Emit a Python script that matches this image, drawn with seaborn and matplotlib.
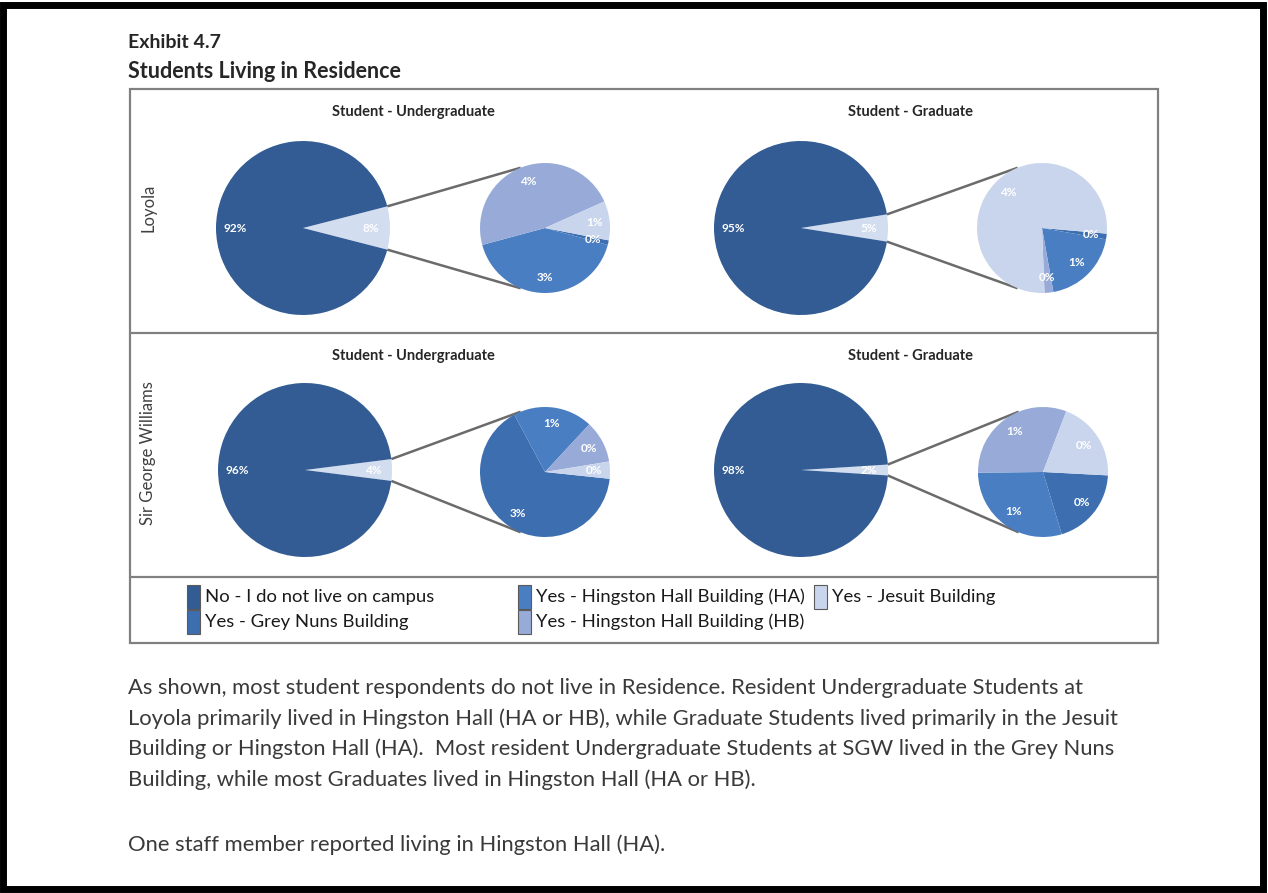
import matplotlib
matplotlib.use("Agg")
import matplotlib.pyplot as plt
import seaborn as sns
from matplotlib.patches import Rectangle
import numpy as np

# ---------------- data ----------------
campuses = ["Loyola", "Sir George Williams"]
groups = ["Student - Undergraduate", "Student - Graduate"]
categories = ["No - I do not live on campus", "Yes - Grey Nuns Building",
              "Yes - Hingston Hall Building (HA)", "Yes - Hingston Hall Building (HB)",
              "Yes - Jesuit Building"]
# percent of respondents: No, Grey Nuns, HA, HB, Jesuit
loyola_ug = [92.0, 0.09, 3.33, 3.80, 0.78]
loyola_grad = [95.0, 0.07, 0.97, 0.11, 3.85]
sgw_ug = [96.0, 2.62, 0.79, 0.42, 0.17]
sgw_grad = [98.0, 0.39, 0.59, 0.62, 0.40]

title1 = "Exhibit 4.7"
title2 = "Students Living in Residence"
paragraph = [
    "As shown, most student respondents do not live in Residence. Resident Undergraduate Students at",
    "Loyola primarily lived in Hingston Hall (HA or HB), while Graduate Students lived primarily in the Jesuit",
    "Building or Hingston Hall (HA).  Most resident Undergraduate Students at SGW lived in the Grey Nuns",
    "Building, while most Graduates lived in Hingston Hall (HA or HB).",
]
footnote = "One staff member reported living in Hingston Hall (HA)."

# ---------------- style ----------------
sns.set_theme(style="white")
plt.rcParams['font.family'] = ['Lato', 'DejaVu Sans']
palette = sns.color_palette(["#325c93", "#3c6eb0", "#4a7ec2", "#98aad8", "#c9d5ec"])
other_color = "#d3ddf0"

W, H = 1268, 893
def Y(py):
    return H - py

fig = plt.figure(figsize=(W / 100, H / 100), dpi=100)
ax = fig.add_axes([0, 0, 1, 1])

panels = [
    (loyola_ug, 303, 228, 545, 228, -11),
    (loyola_grad, 801, 228, 1042, 228, -5),
    (sgw_ug, 305, 470, 545, 472, -6),
    (sgw_grad, 801, 470, 1043, 472, -3),
]
R_MAIN, R_SEC = 87, 65

def label_wedges(wedges, vals, cx, cy, r, dist=0.78, size=8.5):
    for w, v in zip(wedges, vals):
        mid = np.deg2rad((w.theta1 + w.theta2) / 2)
        ax.text(cx + dist * r * np.cos(mid), cy + dist * r * np.sin(mid),
                f"{int(round(v))}%", color="white", fontsize=size, fontweight="bold",
                ha="center", va="center")

for vals, mx, my, sx, sy, start in panels:
    no_val = vals[0]
    subs = vals[1:]
    other = sum(subs)
    half = other / 100 * 360 / 2
    cmy, csy = Y(my), Y(sy)
    # main pie: Other wedge centred on the right
    w_main, _ = ax.pie([other, no_val], colors=[other_color, palette[0]],
                       center=(mx, cmy), radius=R_MAIN, startangle=-half,
                       counterclock=True, frame=True,
                       wedgeprops=dict(linewidth=0))
    label_wedges(w_main, [other, no_val], mx, cmy, R_MAIN)
    # secondary pie
    w_sec, _ = ax.pie(subs, colors=palette[1:], center=(sx, csy), radius=R_SEC,
                      startangle=start, counterclock=False, frame=True,
                      wedgeprops=dict(linewidth=0))
    label_wedges(w_sec, subs, sx, csy, R_SEC, dist=0.76)
    # connector lines
    for sgn in (1, -1):
        a1 = np.deg2rad(sgn * half)
        a2 = np.deg2rad(sgn * 112)
        ax.plot([mx + R_MAIN * np.cos(a1), sx + R_SEC * np.cos(a2)],
                [cmy + R_MAIN * np.sin(a1), csy + R_SEC * np.sin(a2)],
                color="#6b6b6b", lw=1.8, solid_capstyle="butt", zorder=0.5)

# box and separators
box_col = "#808080"
ax.add_patch(Rectangle((130, Y(643)), 1028, 643 - 89, fill=False, ec=box_col, lw=1.6))
for py in (333, 577):
    ax.plot([130, 1158], [Y(py), Y(py)], color=box_col, lw=1.6)

# panel titles and row labels
for row, ty in enumerate((112, 356)):
    for g, tx in zip(groups, (413, 910)):
        ax.text(tx, Y(ty), g, fontsize=10.5, fontweight="bold", color="#262626",
                ha="center", va="center")
for name, ly in zip(campuses, (208, 453)):
    ax.text(148, Y(ly), name, rotation=90, fontsize=12, color="#404040",
            ha="center", va="center")

# legend (manual layout)
leg_pos = [(187, 597), (187, 622), (518, 597), (518, 622), (814, 597)]
for cat, col, (lx, ly) in zip(categories, palette, leg_pos):
    ax.add_patch(Rectangle((lx, Y(ly) - 12), 13, 24,
                           facecolor=col, edgecolor="#5a5a5a", lw=0.8))
    ax.text(lx + 18, Y(ly), cat, fontsize=13.3, color="#1a1a1a", ha="left", va="center")

# headings
ax.text(128, Y(42), title1, fontsize=14, fontweight="bold", color="#262626",
        ha="left", va="center")
ax.text(128, Y(72), title2, fontsize=15.5, fontweight="bold", color="#262626",
        ha="left", va="center")

# paragraph
for line, py in zip(paragraph, (688, 719, 749, 780)):
    ax.text(128, Y(py), line, fontsize=15.8, color="#3a3a3a", ha="left", va="center")
ax.text(128, Y(845), footnote, fontsize=15.8, color="#3a3a3a", ha="left", va="center")

# outer black frame
ax.add_patch(Rectangle((3, 4), W - 8, H - 9, fill=False, ec="black", lw=5))

ax.set_xlim(0, W)
ax.set_ylim(0, H)
ax.set_aspect("equal")
ax.axis("off")

fig.savefig("out.png", dpi=100, facecolor="white")
